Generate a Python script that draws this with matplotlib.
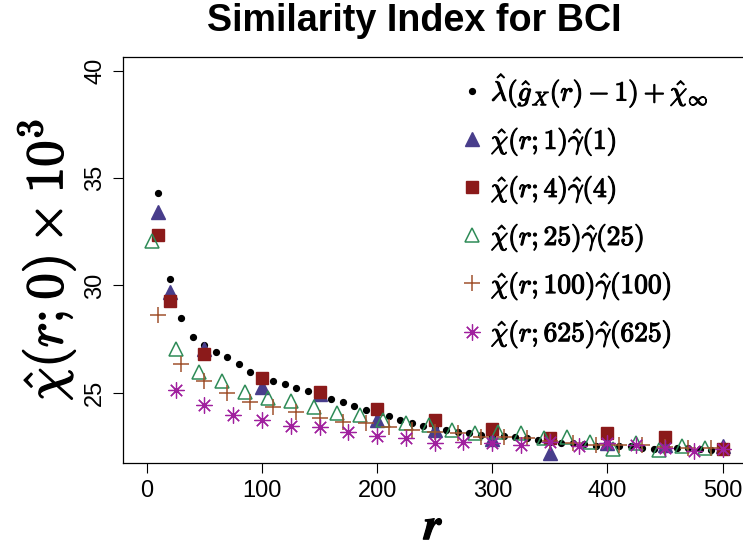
import matplotlib
matplotlib.use("Agg")
import matplotlib.pyplot as plt
import matplotlib.patheffects as pe

plt.rcParams["mathtext.fontset"] = "cm"
plt.rcParams["font.family"] = ["Liberation Sans", "DejaVu Sans"]

# fitted curve, one point every 10 in r
r_fit = [10, 20, 30, 40, 50, 60, 70, 80, 90, 100,
         110, 120, 130, 140, 150, 160, 170, 180, 190, 200,
         210, 220, 230, 240, 250, 260, 270, 280, 290, 300,
         310, 320, 330, 340, 350, 360, 370, 380, 390, 400,
         410, 420, 430, 440, 450, 460, 470, 480, 490, 500]
chi_fit = [34.33, 30.29, 28.47, 27.60, 27.20, 26.91, 26.65, 26.33, 25.98, 25.78,
           25.56, 25.41, 25.21, 25.08, 24.92, 24.71, 24.56, 24.40, 24.20, 24.05,
           23.92, 23.73, 23.58, 23.46, 23.36, 23.26, 23.18, 23.11, 23.03, 23.00,
           22.98, 22.92, 22.89, 22.80, 22.72, 22.67, 22.64, 22.61, 22.53, 22.51,
           22.49, 22.49, 22.41, 22.38, 22.40, 22.41, 22.41, 22.38, 22.33, 22.32]

# quadrat sizes 1 and 4
r_s1 = [10, 20, 50, 100, 150, 200, 250, 300, 350, 400, 450, 500]
chi_s1 = [33.41, 29.67, 27.03, 25.25, 24.95, 23.73, 23.26, 22.83, 22.18, 22.64, 22.55, 22.49]
r_s4 = [10, 20, 50, 100, 150, 200, 250, 300, 350, 400, 450, 500]
chi_s4 = [32.35, 29.28, 26.82, 25.70, 25.05, 24.23, 23.73, 23.30, 22.88, 23.14, 22.95, 22.38]

# quadrat size 25
r_s25 = [5, 25, 45, 65, 85, 105, 125, 145, 165, 185, 205, 225, 245,
         265, 285, 305, 325, 345, 365, 385, 405, 425, 445, 465, 485]
chi_s25 = [32.09, 27.05, 25.98, 25.55, 25.02, 24.74, 24.62, 24.35, 24.07, 23.96, 23.73, 23.60, 23.48,
           23.26, 23.11, 23.18, 23.11, 22.88, 22.95, 22.72, 22.36, 22.64, 22.33, 22.49, 22.41]

# quadrat size 100
r_s100 = [10, 30, 50, 70, 90, 110, 130, 150, 170, 190, 210, 230, 250,
          270, 290, 310, 330, 350, 370, 390, 410, 430, 450, 470, 490]
chi_s100 = [28.62, 26.33, 25.52, 24.97, 24.58, 24.35, 24.12, 23.81, 23.65, 23.57, 23.42, 23.26, 23.15,
            23.11, 22.92, 22.92, 22.87, 22.75, 22.65, 22.58, 22.55, 22.55, 22.45, 22.42, 22.42]

# quadrat size 625
r_s625 = [25, 50, 75, 100, 125, 150, 175, 200, 225, 250,
          275, 300, 325, 350, 375, 400, 425, 450, 475, 500]
chi_s625 = [25.13, 24.43, 23.96, 23.73, 23.45, 23.39, 23.18, 22.98, 22.87, 22.64,
            22.72, 22.64, 22.57, 22.72, 22.52, 22.64, 22.57, 22.41, 22.26, 22.38]

W, H = 743, 548
fig = plt.figure(figsize=(W / 100, H / 100), dpi=100)
ax = fig.add_axes([123 / W, (H - 463) / H, (745.7 - 123) / W, (463 - 57) / H])

h_fit, = ax.plot(r_fit, chi_fit, ls="none", marker="o", ms=4.2, color="black")
h1, = ax.plot(r_s1, chi_s1, ls="none", marker="^", ms=9.5, color="#483D8B")
h4, = ax.plot(r_s4, chi_s4, ls="none", marker="s", ms=8.6, color="#8B1A1A")
h25, = ax.plot(r_s25, chi_s25, ls="none", marker="^", ms=10.5, mfc="none",
               mec="#2E8B57", mew=1.1)
h100, = ax.plot(r_s100, chi_s100, ls="none", marker="+", ms=12, color="#A0522D", mew=1.1)
h625, = ax.plot(r_s625, chi_s625, ls="none", marker=(8, 2, 0), ms=11.5, color="#A0209E", mew=0.9)

ax.set_xlim(-20.6, 520)
ax.set_ylim(21.72, 40.65)
ax.set_xticks([0, 100, 200, 300, 400, 500])
ax.set_yticks([25, 30, 35, 40])
ax.tick_params(direction="out", length=7.2, width=0.8, labelsize=17, pad=5)
for lab in ax.get_yticklabels():
    lab.set_rotation(90)
    lab.set_va("center")
for s in ax.spines.values():
    s.set_linewidth(0.9)

# computer-modern math has no bold greek, so thicken the glyphs with a stroke
heavy = [pe.withStroke(linewidth=0.9, foreground="black")]

xl = ax.set_xlabel(r"$\boldsymbol{r}$", fontsize=32, labelpad=4)
xl.set_path_effects(heavy)
yl = ax.set_ylabel(r"$\hat{\chi}(r;0)\times 10^{3}$", fontsize=38, labelpad=4)
yl.set_path_effects([pe.withStroke(linewidth=1.0, foreground="black")])

fig.text(414 / W, 1 - 21 / H, "Similarity Index for BCI", ha="center", va="center",
         fontsize=27.2, fontweight="bold")

labels = [r"$\hat{\lambda}(\hat{g}_X(r)-1)+\hat{\chi}_\infty$",
          r"$\hat{\chi}(r;1)\hat{\gamma}(1)$",
          r"$\hat{\chi}(r;4)\hat{\gamma}(4)$",
          r"$\hat{\chi}(r;25)\hat{\gamma}(25)$",
          r"$\hat{\chi}(r;100)\hat{\gamma}(100)$",
          r"$\hat{\chi}(r;625)\hat{\gamma}(625)$"]
leg = ax.legend([h_fit, h1, h4, h25, h100, h625], labels, frameon=False,
                loc="upper left", bbox_to_anchor=(462 / W, 1 - 72 / H),
                bbox_transform=fig.transFigure, fontsize=19.8, numpoints=1,
                handlelength=0.7, handletextpad=0.35, labelspacing=0.6,
                borderaxespad=0, borderpad=0)
for t in leg.get_texts():
    t.set_path_effects([pe.withStroke(linewidth=0.8, foreground="black")])

fig.savefig("out.png", dpi=100)
